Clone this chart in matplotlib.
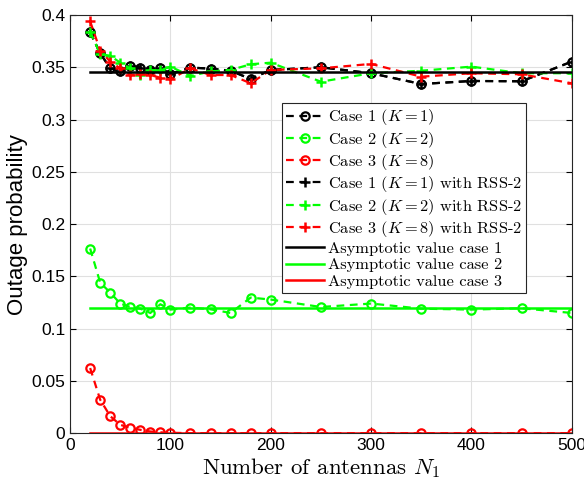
import matplotlib
matplotlib.use("Agg")
import matplotlib.pyplot as plt

N1 = [20, 30, 40, 50, 60, 70, 80, 90, 100, 120, 140, 160, 180, 200, 250, 300, 350, 400, 450, 500]

case1 = [0.3835, 0.3634, 0.349, 0.3465, 0.3515, 0.3497, 0.3477, 0.3493, 0.3436, 0.3497,
         0.3487, 0.3467, 0.3388, 0.3474, 0.350, 0.3443, 0.334, 0.3369, 0.3366, 0.3554]
case2 = [0.1766, 0.144, 0.1345, 0.124, 0.1207, 0.1191, 0.115, 0.1233, 0.1182, 0.1201,
         0.1185, 0.115, 0.1297, 0.1278, 0.1207, 0.124, 0.1191, 0.1182, 0.1195, 0.115]
case3 = [0.0623, 0.032, 0.0163, 0.008, 0.0051, 0.0032, 0.0016, 0.0008, 0.0004, 0.0,
         0.0, 0.0, 0.0, 0.0, 0.0, 0.0, 0.0, 0.0, 0.0, 0.0]
case1_rss = [0.3835, 0.3634, 0.349, 0.3465, 0.3515, 0.3497, 0.3477, 0.3493, 0.3436, 0.3497,
             0.3487, 0.3467, 0.3388, 0.3474, 0.350, 0.3443, 0.334, 0.3369, 0.3366, 0.3554]
case2_rss = [0.384, 0.3627, 0.361, 0.3544, 0.349, 0.3426, 0.3474, 0.347, 0.3506, 0.3417,
             0.346, 0.3474, 0.3529, 0.3544, 0.3362, 0.3443, 0.3467, 0.3506, 0.3443, 0.3443]
case3_rss = [0.394, 0.366, 0.3554, 0.349, 0.3426, 0.3436, 0.3426, 0.340, 0.3385, 0.349,
             0.3426, 0.3426, 0.3347, 0.3474, 0.349, 0.3532, 0.341, 0.3443, 0.3433, 0.3347]
asym = [0.3455, 0.1193, 0.0]

labels = ["Case 1 ($K=1$)", "Case 2 ($K=2$)", "Case 3 ($K=8$)",
          "Case 1 ($K=1$) with RSS-2", "Case 2 ($K=2$) with RSS-2", "Case 3 ($K=8$) with RSS-2",
          "Asymptotic value case 1", "Asymptotic value case 2", "Asymptotic value case 3"]
colors = ["black", "#00ff00", "red"]

plt.rcParams['mathtext.fontset'] = 'cm'
plt.rcParams['font.family'] = ['Liberation Sans', 'DejaVu Sans']

fig = plt.figure(figsize=(5.84, 4.84), dpi=100)
ax = fig.add_axes([0.12, 0.105, 0.859, 0.864])

series_c = [case1, case2, case3]
series_r = [case1_rss, case2_rss, case3_rss]
for i in range(3):
    ax.plot(N1, series_c[i], linestyle='--', color=colors[i], marker='o', markersize=6,
            markerfacecolor='none', markeredgewidth=1.6, linewidth=1.6, label=labels[i],
            dashes=(3.5, 2.5))
for i in range(3):
    ax.plot(N1, series_r[i], linestyle='--', color=colors[i], marker='+', markersize=7.5,
            markeredgewidth=1.8, linewidth=1.6, label=labels[3 + i], dashes=(3.5, 2.5))
for i in range(3):
    ax.plot([N1[0], N1[-1]], [asym[i], asym[i]], color=colors[i], linewidth=1.8,
            label=labels[6 + i])

ax.set_xlim(0, 500)
ax.set_ylim(0, 0.4)
ax.set_xticks([0, 100, 200, 300, 400, 500])
yt = [0, 0.05, 0.1, 0.15, 0.2, 0.25, 0.3, 0.35, 0.4]
ax.set_yticks(yt)
ax.set_yticklabels(['0', '0.05', '0.1', '0.15', '0.2', '0.25', '0.3', '0.35', '0.4'])
ax.tick_params(direction='in', labelsize=12.5, length=4, top=True, right=True, width=0.8)
ax.grid(True, color='#e0e0e0', linewidth=0.8)
ax.set_axisbelow(True)
for s in ax.spines.values():
    s.set_color('#262626')
    s.set_linewidth(0.8)

ax.set_xlabel("Number of antennas $N_1$", family='cmr10', fontsize=16.5, labelpad=2)
ax.set_ylabel("Outage probability", fontsize=16, labelpad=2)

leg = ax.legend(loc='upper left', bbox_to_anchor=(0.422, 0.789), prop={'family': 'cmr10', 'size': 11.8},
                frameon=True, fancybox=False, edgecolor='#262626', framealpha=1,
                borderpad=0.25, labelspacing=0.14, handlelength=2.3, handletextpad=0.25,
                borderaxespad=0)
leg.get_frame().set_linewidth(0.8)

fig.savefig("out.png", dpi=100)
